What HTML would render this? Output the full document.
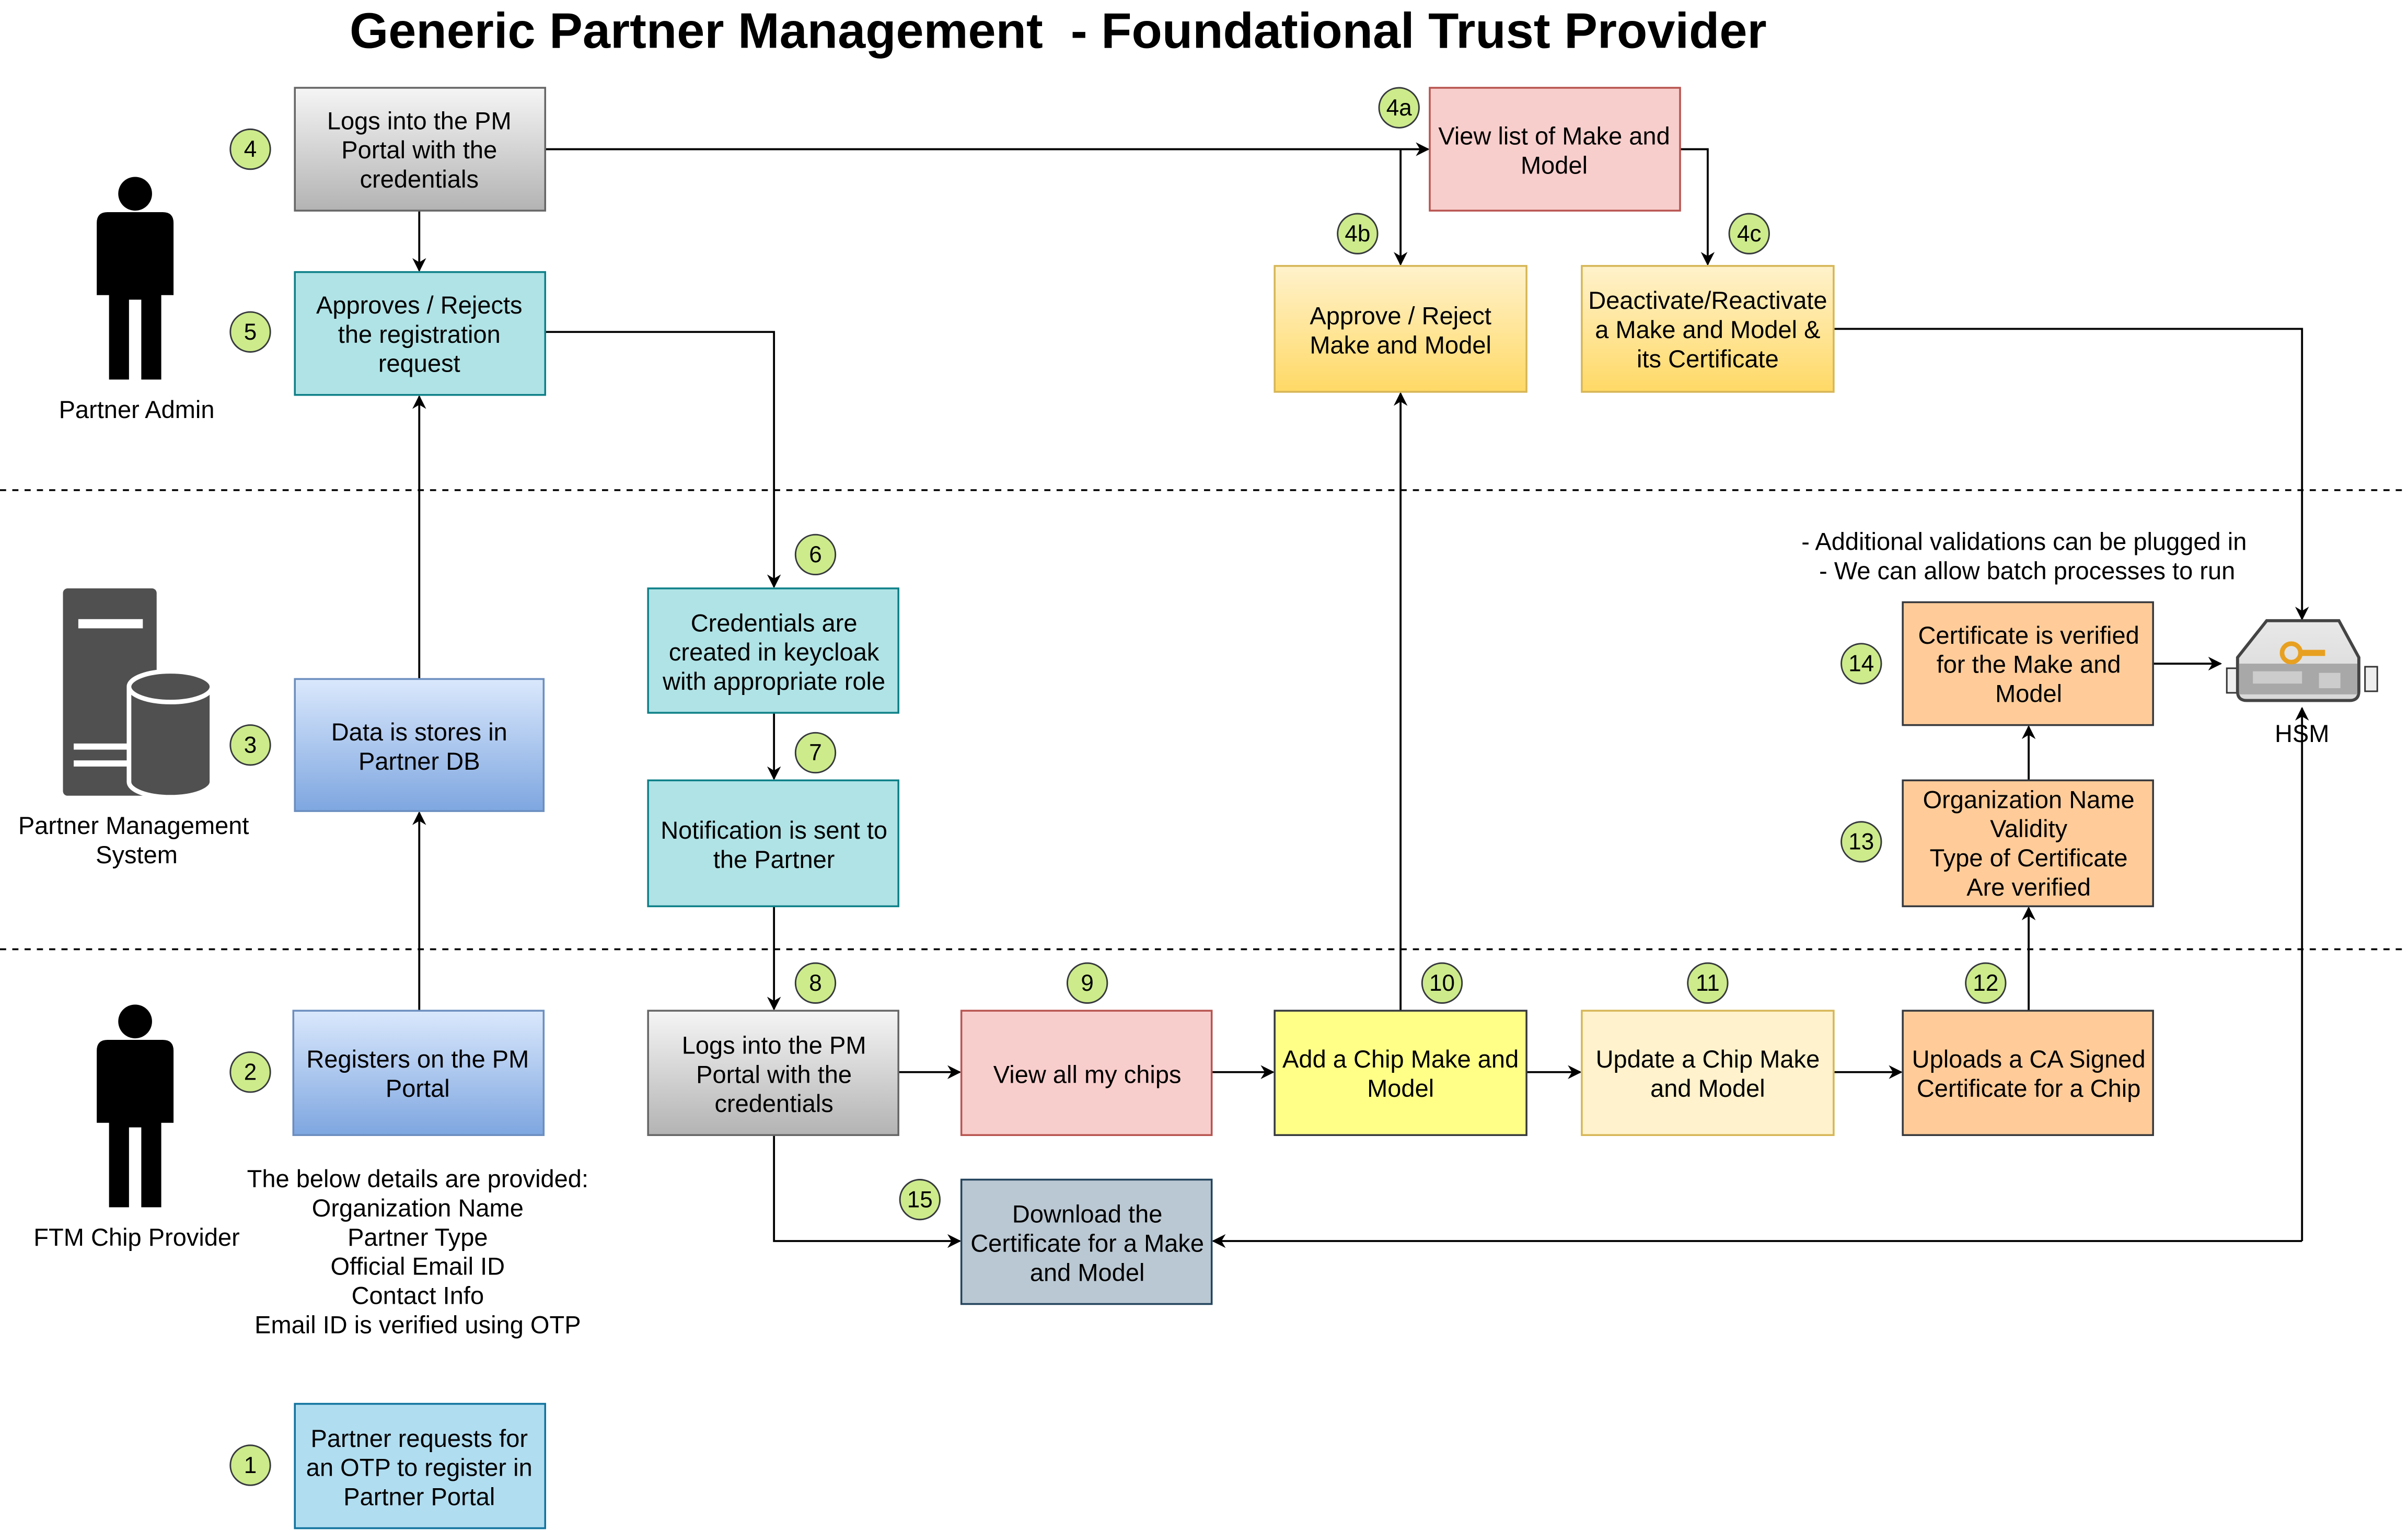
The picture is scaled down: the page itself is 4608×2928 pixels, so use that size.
<!DOCTYPE html>
<html><head><meta charset="utf-8"><style>html,body{margin:0;padding:0;background:#fff}svg{display:block}</style></head><body>
<svg xmlns="http://www.w3.org/2000/svg" width="4608" height="2928" viewBox="0 0 1568 996" font-family="Liberation Sans, Arial, sans-serif">
<defs>
<linearGradient id="gg" x1="0" y1="0" x2="0" y2="1"><stop offset="0" stop-color="#f5f5f5"/><stop offset="1" stop-color="#b3b3b3"/></linearGradient>
<linearGradient id="bg" x1="0" y1="0" x2="0" y2="1"><stop offset="0" stop-color="#dae8fc"/><stop offset="1" stop-color="#7ea6e0"/></linearGradient>
<linearGradient id="yg" x1="0" y1="0" x2="0" y2="1"><stop offset="0" stop-color="#fff2cc"/><stop offset="1" stop-color="#ffd966"/></linearGradient>
<linearGradient id="hs" x1="0" y1="0" x2="0" y2="1"><stop offset="0" stop-color="#e8e8e8"/><stop offset="1" stop-color="#d8d8d8"/></linearGradient>
<marker id="a" viewBox="0 0 10 10" refX="9" refY="5" markerWidth="9" markerHeight="9" markerUnits="userSpaceOnUse" orient="auto"><path d="M0,0L10,5L0,10L3,5z" fill="#000"/></marker>
</defs>
<rect width="1568" height="996" fill="#fff"/>
<text x="689" y="31" font-size="32.5" font-weight="bold" text-anchor="middle" xml:space="preserve">Generic Partner Management  - Foundational Trust Provider</text>
<g stroke="#000" stroke-dasharray="4,4" stroke-width="1.2"><line x1="0" y1="319" x2="1568" y2="319"/><line x1="0" y1="618" x2="1568" y2="618"/></g>

<g stroke="#000" stroke-width="1.3" fill="none" marker-end="url(#a)">
<path d="M273,137V176"/>
<path d="M355,97H930"/>
<path d="M912,97V172"/>
<path d="M1094,97H1112V172"/>
<path d="M355,216H504V382"/>
<path d="M273,442V258"/>
<path d="M273,658V529"/>
<path d="M504,464V507"/>
<path d="M504,590V657"/>
<path d="M585,698H625"/>
<path d="M789,698H829"/>
<path d="M912,658V256"/>
<path d="M994,698H1029"/>
<path d="M1194,698H1238"/>
<path d="M1321,658V591"/>
<path d="M1321,508V473"/>
<path d="M1402,432H1446"/>
<path d="M1194,214H1499V403"/>
<path d="M504,739V808H625"/>
<path d="M1499,808H790"/>
<path d="M1499,808V461"/>
</g>

<g font-size="16" text-anchor="middle" stroke-width="1.2">
<rect x="192" y="57" width="163" height="80" fill="url(#gg)" stroke="#666"/>
<text x="273" y="84">Logs into the PM</text><text x="273" y="103">Portal with the</text><text x="273" y="122">credentials</text>
<rect x="192" y="177" width="163" height="80" fill="#b0e3e6" stroke="#0e8088"/>
<text x="273" y="204">Approves / Rejects</text><text x="273" y="223">the registration</text><text x="273" y="242">request</text>
<rect x="192" y="442" width="162" height="86" fill="url(#bg)" stroke="#6c8ebf"/>
<text x="273" y="482">Data is stores in</text><text x="273" y="501">Partner DB</text>
<rect x="191" y="658" width="163" height="81" fill="url(#bg)" stroke="#6c8ebf"/>
<text x="272" y="695">Registers on the PM</text><text x="272" y="714">Portal</text>
<rect x="192" y="914" width="163" height="81" fill="#b1ddf0" stroke="#10739e"/>
<text x="273" y="942">Partner requests for</text><text x="273" y="961">an OTP to register in</text><text x="273" y="980">Partner Portal</text>
<rect x="422" y="383" width="163" height="81" fill="#b0e3e6" stroke="#0e8088"/>
<text x="504" y="411">Credentials are</text><text x="504" y="430">created in keycloak</text><text x="504" y="449">with appropriate role</text>
<rect x="422" y="508" width="163" height="82" fill="#b0e3e6" stroke="#0e8088"/>
<text x="504" y="546">Notification is sent to</text><text x="504" y="565">the Partner</text>
<rect x="422" y="658" width="163" height="81" fill="url(#gg)" stroke="#666"/>
<text x="504" y="686">Logs into the PM</text><text x="504" y="705">Portal with the</text><text x="504" y="724">credentials</text>
<rect x="626" y="658" width="163" height="81" fill="#f8cecc" stroke="#b85450"/>
<text x="708" y="705">View all my chips</text>
<rect x="830" y="658" width="164" height="81" fill="#ffff88" stroke="#36393d"/>
<text x="912" y="695">Add a Chip Make and</text><text x="912" y="714">Model</text>
<rect x="1030" y="658" width="164" height="81" fill="#fff2cc" stroke="#d6b656"/>
<text x="1112" y="695">Update a Chip Make</text><text x="1112" y="714">and Model</text>
<rect x="1239" y="658" width="163" height="81" fill="#ffcc99" stroke="#36393d"/>
<text x="1321" y="695">Uploads a CA Signed</text><text x="1321" y="714">Certificate for a Chip</text>
<rect x="1239" y="508" width="163" height="82" fill="#ffcc99" stroke="#36393d"/>
<text x="1321" y="526">Organization Name</text><text x="1321" y="545">Validity</text><text x="1321" y="564">Type of Certificate</text><text x="1321" y="583">Are verified</text>
<rect x="1239" y="392" width="163" height="80" fill="#ffcc99" stroke="#36393d"/>
<text x="1321" y="419">Certificate is verified</text><text x="1321" y="438">for the Make and</text><text x="1321" y="457">Model</text>
<rect x="626" y="768" width="163" height="81" fill="#bac8d3" stroke="#23445d"/>
<text x="708" y="796">Download the</text><text x="708" y="815">Certificate for a Make</text><text x="708" y="834">and Model</text>
<rect x="931" y="57" width="163" height="80" fill="#f8cecc" stroke="#b85450"/>
<text x="1012" y="94">View list of Make and</text><text x="1012" y="113">Model</text>
<rect x="830" y="173" width="164" height="82" fill="url(#yg)" stroke="#d6b656"/>
<text x="912" y="211">Approve / Reject</text><text x="912" y="230">Make and Model</text>
<rect x="1030" y="173" width="164" height="82" fill="url(#yg)" stroke="#d6b656"/>
<text x="1112" y="201">Deactivate/Reactivate</text><text x="1112" y="220">a Make and Model &amp;</text><text x="1112" y="239">its Certificate</text>

<text x="89" y="272">Partner Admin</text>
<text x="87" y="543">Partner Management</text><text x="89" y="562">System</text>
<text x="89" y="811">FTM Chip Provider</text>
<text x="272" y="773">The below details are provided:</text>
<text x="272" y="792">Organization Name</text>
<text x="272" y="811">Partner Type</text>
<text x="272" y="830">Official Email ID</text>
<text x="272" y="849">Contact Info</text>
<text x="272" y="868">Email ID is verified using OTP</text>
<text x="1318" y="358">- Additional validations can be plugged in</text>
<text x="1320" y="377">- We can allow batch processes to run</text>
<text x="1499" y="483">HSM</text>
</g>

<g font-size="15" text-anchor="middle">
<g fill="#cdeb8b" stroke="#36393d" stroke-width="1">
<circle cx="163" cy="97" r="13"/><circle cx="163" cy="216" r="13"/><circle cx="163" cy="485" r="13"/><circle cx="163" cy="698" r="13"/><circle cx="163" cy="954" r="13"/>
<circle cx="531" cy="361" r="13"/><circle cx="531" cy="490" r="13"/><circle cx="531" cy="640" r="13"/><circle cx="708" cy="640" r="13"/><circle cx="939" cy="640" r="13"/>
<circle cx="1112" cy="640" r="13"/><circle cx="1293" cy="640" r="13"/><circle cx="1212" cy="548" r="13"/><circle cx="1212" cy="432" r="13"/><circle cx="599" cy="781" r="13"/>
<circle cx="911" cy="70" r="13"/><circle cx="884" cy="152" r="13"/><circle cx="1139" cy="152" r="13"/>
</g>
<text x="163" y="102">4</text><text x="163" y="221">5</text><text x="163" y="490">3</text><text x="163" y="703">2</text><text x="163" y="959">1</text>
<text x="531" y="366">6</text><text x="531" y="495">7</text><text x="531" y="645">8</text><text x="708" y="645">9</text><text x="939" y="645">10</text>
<text x="1112" y="645">11</text><text x="1293" y="645">12</text><text x="1212" y="553">13</text><text x="1212" y="437">14</text><text x="599" y="786">15</text>
<text x="911" y="75">4a</text><text x="884" y="157">4b</text><text x="1139" y="157">4c</text>
</g>

<g fill="#000">
<circle cx="88" cy="126" r="11"/>
<path d="M70,138H106Q113,138 113,145V192H105V247H92V195H84V247H71V192H63V145Q63,138 70,138z"/>
<circle cx="88" cy="665" r="11"/>
<path d="M70,677H106Q113,677 113,684V731H105V786H92V734H84V786H71V731H63V684Q63,677 70,677z"/>
</g>
<g fill="#505050">
<rect x="41" y="383" width="61" height="135" rx="3"/>
<rect x="51" y="403" width="42" height="6" fill="#fff"/>
<path d="M84,447a27,10 0 0 1 54,0v62a27,10 0 0 1 -54,0z" stroke="#fff" stroke-width="3"/>
<ellipse cx="111" cy="447" rx="27" ry="10" fill="#505050" stroke="#fff" stroke-width="3"/>
<rect x="48" y="484" width="36" height="4" fill="#fff"/><rect x="48" y="495" width="36" height="4" fill="#fff"/>
</g>
<g>
<rect x="1450" y="435" width="8" height="16" fill="#eee" stroke="#333"/>
<rect x="1540" y="434" width="8" height="16" fill="#eee" stroke="#333"/>
<path d="M1476,404H1523L1536,428V450Q1536,456 1530,456H1463Q1457,456 1457,450V428z" fill="url(#hs)" stroke="#444" stroke-width="2"/>
<rect x="1458" y="432" width="77" height="20" fill="#a8a8a8"/>
<rect x="1467" y="437" width="32" height="8" fill="#ccc"/>
<rect x="1510" y="438" width="14" height="10" fill="#ccc"/>
<circle cx="1492" cy="425" r="6" fill="none" stroke="#e8a020" stroke-width="3"/>
<rect x="1497" y="423" width="17" height="4" fill="#e8a020"/>
</g>
</svg>
</body></html>
